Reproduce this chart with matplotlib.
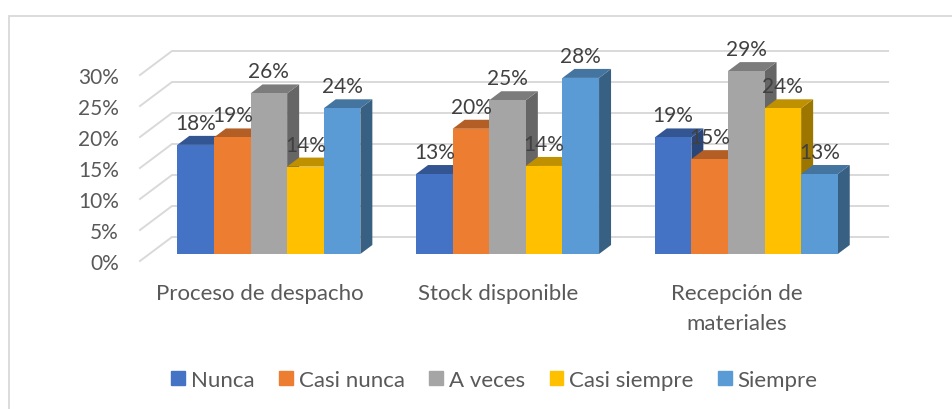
import matplotlib
matplotlib.use('Agg')
import matplotlib.pyplot as plt
from matplotlib.patches import Polygon, Rectangle

categories = ['Proceso de despacho', 'Stock disponible', 'Recepción de\nmateriales']
series_names = ['Nunca', 'Casi nunca', 'A veces', 'Casi siempre', 'Siempre']
nunca = [17.6, 12.9, 18.8]
casi_nunca = [18.8, 20.2, 15.3]
a_veces = [25.9, 24.8, 29.5]
casi_siempre = [14.1, 14.2, 23.5]
siempre = [23.5, 28.4, 12.9]
# labels as printed on the chart
nunca_lab = ['18%', '13%', '19%']
casi_nunca_lab = ['19%', '20%', '15%']
a_veces_lab = ['26%', '25%', '29%']
casi_siempre_lab = ['14%', '14%', '24%']
siempre_lab = ['24%', '28%', '13%']
ticks = [0, 5, 10, 15, 20, 25, 30]

front_cols = ['#4472C4', '#ED7D31', '#A5A5A5', '#FFC000', '#5B9BD5']
top_cols = ['#335693', '#B25E25', '#7C7C7C', '#BF9000', '#4474A0']
side_cols = ['#2A4679', '#924D1E', '#666666', '#9D7600', '#386083']

W, H = 953, 410
PX_X = 238.7  # px per category
PX_Y = 6.2    # px per percent
X0, Y0 = 140, 262  # front corner of the floor, px

plt.rcParams['font.family'] = ['Lato', 'DejaVu Sans']
fig = plt.figure(figsize=(W / 100, H / 100), dpi=100, facecolor='white')
ax = fig.add_axes([0, 0, 1, 1])
ax.set_xlim(-0.5 - X0 / PX_X, -0.5 + (W - X0) / PX_X)
ax.set_ylim(-(H - Y0) / PX_Y, Y0 / PX_Y)
ax.axis('off')

# depth of the floor and of the bars, in data units
wall_dx, wall_dy = 32 / PX_X, 24 / PX_Y
bar_dx, bar_dy = 12 / PX_X, 9 / PX_Y
off_dx, off_dy = 9.5 / PX_X, 7 / PX_Y
bar_w = 36.6 / PX_X

# chart frame: only left and top edges are visible
frame_x = -0.5 + (9 - X0) / PX_X
frame_y = (Y0 - 16.5) / PX_Y
ax.plot([frame_x, frame_x, ax.get_xlim()[1]], [ax.get_ylim()[0], frame_y, frame_y],
        color='#D9D9D9', linewidth=1.3, solid_joinstyle='miter', zorder=1)

# gridlines: diagonal on the side wall, then along the back
for t in ticks:
    ax.plot([-0.5, -0.5 + wall_dx, 2.5 + wall_dx], [t, t + wall_dy, t + wall_dy],
            color='#D9D9D9', linewidth=1.4, solid_joinstyle='miter', zorder=2)
    ax.text(-0.5 - 21 / PX_X, t, f'{t}%', ha='right', va='center_baseline',
            fontsize=15, color='#595959')

series = [nunca, casi_nunca, a_veces, casi_siempre, siempre]
labels = [nunca_lab, casi_nunca_lab, a_veces_lab, casi_siempre_lab, siempre_lab]
z = 3
for g in range(len(categories)):
    left = g - 5 * bar_w / 2 + off_dx
    for i, vals in enumerate(series):
        v = vals[g]
        x = left + i * bar_w
        # side and top faces first so the next bar covers them
        ax.add_patch(Polygon([(x + bar_w, off_dy), (x + bar_w + bar_dx, off_dy + bar_dy),
                              (x + bar_w + bar_dx, off_dy + v + bar_dy), (x + bar_w, off_dy + v)],
                             facecolor=side_cols[i], edgecolor='none', zorder=z))
        ax.add_patch(Polygon([(x, off_dy + v), (x + bar_dx, off_dy + v + bar_dy),
                              (x + bar_w + bar_dx, off_dy + v + bar_dy), (x + bar_w, off_dy + v)],
                             facecolor=top_cols[i], edgecolor='none', zorder=z))
        ax.bar(x, v, width=bar_w, bottom=off_dy, align='edge', color=front_cols[i],
               linewidth=0, zorder=z + 0.5)
        z += 1
        ax.text(x + bar_w / 2, off_dy + v + bar_dy + 15 / PX_Y, labels[i][g], ha='center',
                va='center_baseline', fontsize=15, color='#404040', zorder=100)

for g, name in enumerate(categories):
    ax.text(g, (Y0 - 284) / PX_Y, name, ha='center', va='top', fontsize=16,
            color='#595959', linespacing=1.62)

# legend
handles = [Rectangle((0, 0), 1, 1, color=c) for c in front_cols]
fig.legend(handles, series_names, loc='center', bbox_to_anchor=(494.5 / W, 1 - 381 / H), ncol=5,
           frameon=False, fontsize=16, labelcolor='#595959', handlelength=0.6, handleheight=0.6,
           handletextpad=0.27, columnspacing=1.12, borderpad=0)

fig.savefig('out.png', dpi=100)
